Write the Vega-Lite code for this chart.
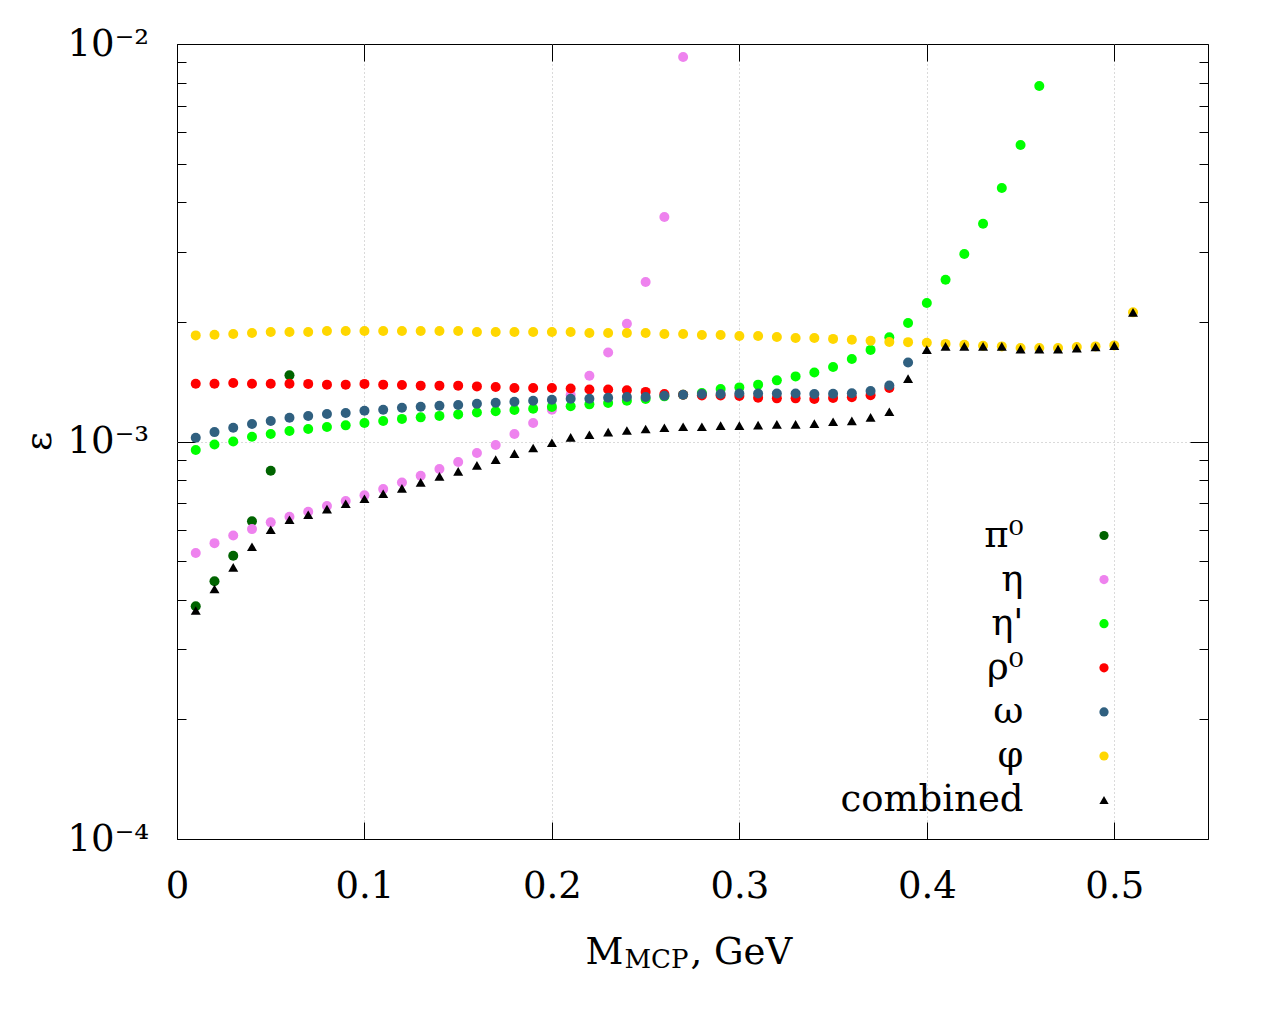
{
  "$schema": "https://vega.github.io/schema/vega-lite/v6.json",
  "width": 1031,
  "height": 795,
  "autosize": {"type": "none"},
  "padding": {"left": 177, "top": 44, "right": 72, "bottom": 185},
  "background": "white",
  "config": {"view": {"stroke": "black", "strokeWidth": 1}, "font": "DejaVu Serif"},
  "resolve": {"axis": {"x": "independent", "y": "independent"}},
  "layer": [
    {
      "data": {"values": [
        {"s":"π⁰","m":0.01,"e":3.85e-4},{"s":"π⁰","m":0.02,"e":4.45e-4},{"s":"π⁰","m":0.03,"e":5.16e-4},{"s":"π⁰","m":0.04,"e":6.30e-4},{"s":"π⁰","m":0.05,"e":8.44e-4},{"s":"π⁰","m":0.06,"e":1.467e-3},
        {"s":"η","m":0.01,"e":5.24e-4},{"s":"η","m":0.02,"e":5.55e-4},{"s":"η","m":0.03,"e":5.80e-4},{"s":"η","m":0.04,"e":6.02e-4},{"s":"η","m":0.05,"e":6.26e-4},{"s":"η","m":0.06,"e":6.47e-4},{"s":"η","m":0.07,"e":6.66e-4},{"s":"η","m":0.08,"e":6.88e-4},{"s":"η","m":0.09,"e":7.08e-4},{"s":"η","m":0.10,"e":7.32e-4},{"s":"η","m":0.11,"e":7.59e-4},{"s":"η","m":0.12,"e":7.89e-4},{"s":"η","m":0.13,"e":8.20e-4},{"s":"η","m":0.14,"e":8.53e-4},{"s":"η","m":0.15,"e":8.88e-4},{"s":"η","m":0.16,"e":9.36e-4},{"s":"η","m":0.17,"e":9.80e-4},{"s":"η","m":0.18,"e":1.044e-3},{"s":"η","m":0.19,"e":1.113e-3},{"s":"η","m":0.20,"e":1.202e-3},{"s":"η","m":0.21,"e":1.31e-3},{"s":"η","m":0.22,"e":1.464e-3},{"s":"η","m":0.23,"e":1.675e-3},{"s":"η","m":0.24,"e":1.979e-3},{"s":"η","m":0.25,"e":2.519e-3},{"s":"η","m":0.26,"e":3.671e-3},{"s":"η","m":0.27,"e":9.276e-3},
        {"s":"η'","m":0.01,"e":9.52e-4},{"s":"η'","m":0.02,"e":9.83e-4},{"s":"η'","m":0.03,"e":1.000e-3},{"s":"η'","m":0.04,"e":1.028e-3},{"s":"η'","m":0.05,"e":1.044e-3},{"s":"η'","m":0.06,"e":1.063e-3},{"s":"η'","m":0.07,"e":1.075e-3},{"s":"η'","m":0.08,"e":1.088e-3},{"s":"η'","m":0.09,"e":1.098e-3},{"s":"η'","m":0.10,"e":1.113e-3},{"s":"η'","m":0.11,"e":1.126e-3},{"s":"η'","m":0.12,"e":1.140e-3},{"s":"η'","m":0.13,"e":1.150e-3},{"s":"η'","m":0.14,"e":1.160e-3},{"s":"η'","m":0.15,"e":1.170e-3},{"s":"η'","m":0.16,"e":1.183e-3},{"s":"η'","m":0.17,"e":1.192e-3},{"s":"η'","m":0.18,"e":1.200e-3},{"s":"η'","m":0.19,"e":1.209e-3},{"s":"η'","m":0.20,"e":1.222e-3},{"s":"η'","m":0.21,"e":1.226e-3},{"s":"η'","m":0.22,"e":1.240e-3},{"s":"η'","m":0.23,"e":1.250e-3},{"s":"η'","m":0.24,"e":1.266e-3},{"s":"η'","m":0.25,"e":1.279e-3},{"s":"η'","m":0.26,"e":1.299e-3},{"s":"η'","m":0.27,"e":1.311e-3},{"s":"η'","m":0.28,"e":1.324e-3},{"s":"η'","m":0.29,"e":1.356e-3},{"s":"η'","m":0.30,"e":1.368e-3},{"s":"η'","m":0.31,"e":1.390e-3},{"s":"η'","m":0.32,"e":1.425e-3},{"s":"η'","m":0.33,"e":1.458e-3},{"s":"η'","m":0.34,"e":1.492e-3},{"s":"η'","m":0.35,"e":1.540e-3},{"s":"η'","m":0.36,"e":1.613e-3},{"s":"η'","m":0.37,"e":1.700e-3},{"s":"η'","m":0.38,"e":1.830e-3},{"s":"η'","m":0.39,"e":1.987e-3},{"s":"η'","m":0.40,"e":2.231e-3},{"s":"η'","m":0.41,"e":2.553e-3},{"s":"η'","m":0.42,"e":2.963e-3},{"s":"η'","m":0.43,"e":3.531e-3},{"s":"η'","m":0.44,"e":4.342e-3},{"s":"η'","m":0.45,"e":5.571e-3},{"s":"η'","m":0.46,"e":7.843e-3},
        {"s":"ρ⁰","m":0.01,"e":1.398e-3},{"s":"ρ⁰","m":0.02,"e":1.398e-3},{"s":"ρ⁰","m":0.03,"e":1.404e-3},{"s":"ρ⁰","m":0.04,"e":1.398e-3},{"s":"ρ⁰","m":0.05,"e":1.398e-3},{"s":"ρ⁰","m":0.06,"e":1.398e-3},{"s":"ρ⁰","m":0.07,"e":1.396e-3},{"s":"ρ⁰","m":0.08,"e":1.390e-3},{"s":"ρ⁰","m":0.09,"e":1.390e-3},{"s":"ρ⁰","m":0.10,"e":1.396e-3},{"s":"ρ⁰","m":0.11,"e":1.390e-3},{"s":"ρ⁰","m":0.12,"e":1.387e-3},{"s":"ρ⁰","m":0.13,"e":1.382e-3},{"s":"ρ⁰","m":0.14,"e":1.382e-3},{"s":"ρ⁰","m":0.15,"e":1.382e-3},{"s":"ρ⁰","m":0.16,"e":1.376e-3},{"s":"ρ⁰","m":0.17,"e":1.371e-3},{"s":"ρ⁰","m":0.18,"e":1.364e-3},{"s":"ρ⁰","m":0.19,"e":1.364e-3},{"s":"ρ⁰","m":0.20,"e":1.364e-3},{"s":"ρ⁰","m":0.21,"e":1.360e-3},{"s":"ρ⁰","m":0.22,"e":1.352e-3},{"s":"ρ⁰","m":0.23,"e":1.352e-3},{"s":"ρ⁰","m":0.24,"e":1.345e-3},{"s":"ρ⁰","m":0.25,"e":1.333e-3},{"s":"ρ⁰","m":0.26,"e":1.317e-3},{"s":"ρ⁰","m":0.27,"e":1.311e-3},{"s":"ρ⁰","m":0.28,"e":1.306e-3},{"s":"ρ⁰","m":0.29,"e":1.306e-3},{"s":"ρ⁰","m":0.30,"e":1.302e-3},{"s":"ρ⁰","m":0.31,"e":1.289e-3},{"s":"ρ⁰","m":0.32,"e":1.284e-3},{"s":"ρ⁰","m":0.33,"e":1.284e-3},{"s":"ρ⁰","m":0.34,"e":1.279e-3},{"s":"ρ⁰","m":0.35,"e":1.287e-3},{"s":"ρ⁰","m":0.36,"e":1.292e-3},{"s":"ρ⁰","m":0.37,"e":1.308e-3},{"s":"ρ⁰","m":0.38,"e":1.364e-3},
        {"s":"ω","m":0.01,"e":1.022e-3},{"s":"ω","m":0.02,"e":1.056e-3},{"s":"ω","m":0.03,"e":1.083e-3},{"s":"ω","m":0.04,"e":1.107e-3},{"s":"ω","m":0.05,"e":1.126e-3},{"s":"ω","m":0.06,"e":1.148e-3},{"s":"ω","m":0.07,"e":1.159e-3},{"s":"ω","m":0.08,"e":1.173e-3},{"s":"ω","m":0.09,"e":1.180e-3},{"s":"ω","m":0.10,"e":1.195e-3},{"s":"ω","m":0.11,"e":1.202e-3},{"s":"ω","m":0.12,"e":1.216e-3},{"s":"ω","m":0.13,"e":1.223e-3},{"s":"ω","m":0.14,"e":1.230e-3},{"s":"ω","m":0.15,"e":1.235e-3},{"s":"ω","m":0.16,"e":1.245e-3},{"s":"ω","m":0.17,"e":1.252e-3},{"s":"ω","m":0.18,"e":1.259e-3},{"s":"ω","m":0.19,"e":1.266e-3},{"s":"ω","m":0.20,"e":1.274e-3},{"s":"ω","m":0.21,"e":1.281e-3},{"s":"ω","m":0.22,"e":1.281e-3},{"s":"ω","m":0.23,"e":1.289e-3},{"s":"ω","m":0.24,"e":1.294e-3},{"s":"ω","m":0.25,"e":1.294e-3},{"s":"ω","m":0.26,"e":1.304e-3},{"s":"ω","m":0.27,"e":1.311e-3},{"s":"ω","m":0.28,"e":1.317e-3},{"s":"ω","m":0.29,"e":1.317e-3},{"s":"ω","m":0.30,"e":1.321e-3},{"s":"ω","m":0.31,"e":1.321e-3},{"s":"ω","m":0.32,"e":1.321e-3},{"s":"ω","m":0.33,"e":1.321e-3},{"s":"ω","m":0.34,"e":1.317e-3},{"s":"ω","m":0.35,"e":1.318e-3},{"s":"ω","m":0.36,"e":1.322e-3},{"s":"ω","m":0.37,"e":1.340e-3},{"s":"ω","m":0.38,"e":1.383e-3},{"s":"ω","m":0.39,"e":1.580e-3},
        {"s":"φ","m":0.01,"e":1.849e-3},{"s":"φ","m":0.02,"e":1.856e-3},{"s":"φ","m":0.03,"e":1.864e-3},{"s":"φ","m":0.04,"e":1.875e-3},{"s":"φ","m":0.05,"e":1.886e-3},{"s":"φ","m":0.06,"e":1.886e-3},{"s":"φ","m":0.07,"e":1.886e-3},{"s":"φ","m":0.08,"e":1.897e-3},{"s":"φ","m":0.09,"e":1.897e-3},{"s":"φ","m":0.10,"e":1.897e-3},{"s":"φ","m":0.11,"e":1.897e-3},{"s":"φ","m":0.12,"e":1.897e-3},{"s":"φ","m":0.13,"e":1.897e-3},{"s":"φ","m":0.14,"e":1.897e-3},{"s":"φ","m":0.15,"e":1.897e-3},{"s":"φ","m":0.16,"e":1.886e-3},{"s":"φ","m":0.17,"e":1.886e-3},{"s":"φ","m":0.18,"e":1.886e-3},{"s":"φ","m":0.19,"e":1.886e-3},{"s":"φ","m":0.20,"e":1.886e-3},{"s":"φ","m":0.21,"e":1.886e-3},{"s":"φ","m":0.22,"e":1.875e-3},{"s":"φ","m":0.23,"e":1.875e-3},{"s":"φ","m":0.24,"e":1.875e-3},{"s":"φ","m":0.25,"e":1.875e-3},{"s":"φ","m":0.26,"e":1.864e-3},{"s":"φ","m":0.27,"e":1.864e-3},{"s":"φ","m":0.28,"e":1.853e-3},{"s":"φ","m":0.29,"e":1.853e-3},{"s":"φ","m":0.30,"e":1.842e-3},{"s":"φ","m":0.31,"e":1.842e-3},{"s":"φ","m":0.32,"e":1.832e-3},{"s":"φ","m":0.33,"e":1.821e-3},{"s":"φ","m":0.34,"e":1.821e-3},{"s":"φ","m":0.35,"e":1.812e-3},{"s":"φ","m":0.36,"e":1.802e-3},{"s":"φ","m":0.37,"e":1.792e-3},{"s":"φ","m":0.38,"e":1.780e-3},{"s":"φ","m":0.39,"e":1.778e-3},{"s":"φ","m":0.40,"e":1.771e-3},{"s":"φ","m":0.41,"e":1.760e-3},{"s":"φ","m":0.42,"e":1.752e-3},{"s":"φ","m":0.43,"e":1.742e-3},{"s":"φ","m":0.44,"e":1.735e-3},{"s":"φ","m":0.45,"e":1.719e-3},{"s":"φ","m":0.46,"e":1.719e-3},{"s":"φ","m":0.47,"e":1.719e-3},{"s":"φ","m":0.48,"e":1.729e-3},{"s":"φ","m":0.49,"e":1.735e-3},{"s":"φ","m":0.50,"e":1.745e-3},{"s":"φ","m":0.51,"e":2.113e-3},
        {"s":"combined","m":0.01,"e":3.757e-4},{"s":"combined","m":0.02,"e":4.255e-4},{"s":"combined","m":0.03,"e":4.824e-4},{"s":"combined","m":0.04,"e":5.436e-4},{"s":"combined","m":0.05,"e":5.999e-4},{"s":"combined","m":0.06,"e":6.357e-4},{"s":"combined","m":0.07,"e":6.543e-4},{"s":"combined","m":0.08,"e":6.762e-4},{"s":"combined","m":0.09,"e":6.974e-4},{"s":"combined","m":0.10,"e":7.179e-4},{"s":"combined","m":0.11,"e":7.390e-4},{"s":"combined","m":0.12,"e":7.621e-4},{"s":"combined","m":0.13,"e":7.890e-4},{"s":"combined","m":0.14,"e":8.170e-4},{"s":"combined","m":0.15,"e":8.411e-4},{"s":"combined","m":0.16,"e":8.706e-4},{"s":"combined","m":0.17,"e":9.000e-4},{"s":"combined","m":0.18,"e":9.318e-4},{"s":"combined","m":0.19,"e":9.630e-4},{"s":"combined","m":0.20,"e":9.930e-4},{"s":"combined","m":0.21,"e":1.024e-3},{"s":"combined","m":0.22,"e":1.040e-3},{"s":"combined","m":0.23,"e":1.056e-3},{"s":"combined","m":0.24,"e":1.066e-3},{"s":"combined","m":0.25,"e":1.075e-3},{"s":"combined","m":0.26,"e":1.083e-3},{"s":"combined","m":0.27,"e":1.089e-3},{"s":"combined","m":0.28,"e":1.089e-3},{"s":"combined","m":0.29,"e":1.096e-3},{"s":"combined","m":0.30,"e":1.096e-3},{"s":"combined","m":0.31,"e":1.100e-3},{"s":"combined","m":0.32,"e":1.104e-3},{"s":"combined","m":0.33,"e":1.104e-3},{"s":"combined","m":0.34,"e":1.109e-3},{"s":"combined","m":0.35,"e":1.121e-3},{"s":"combined","m":0.36,"e":1.127e-3},{"s":"combined","m":0.37,"e":1.150e-3},{"s":"combined","m":0.38,"e":1.188e-3},{"s":"combined","m":0.39,"e":1.439e-3},{"s":"combined","m":0.40,"e":1.702e-3},{"s":"combined","m":0.41,"e":1.735e-3},{"s":"combined","m":0.42,"e":1.735e-3},{"s":"combined","m":0.43,"e":1.735e-3},{"s":"combined","m":0.44,"e":1.735e-3},{"s":"combined","m":0.45,"e":1.708e-3},{"s":"combined","m":0.46,"e":1.708e-3},{"s":"combined","m":0.47,"e":1.708e-3},{"s":"combined","m":0.48,"e":1.718e-3},{"s":"combined","m":0.49,"e":1.729e-3},{"s":"combined","m":0.50,"e":1.742e-3},{"s":"combined","m":0.51,"e":2.113e-3}
      ]},
      "mark": {"type": "point", "filled": true, "size": 100, "opacity": 1, "strokeWidth": 0},
      "encoding": {
        "x": {"field": "m", "type": "quantitative",
          "scale": {"domain": [0, 0.55], "nice": false, "zero": false},
          "axis": {"orient": "bottom", "values": [0, 0.1, 0.2, 0.3, 0.4, 0.5], "format": ".1~f",
            "domain": false, "grid": true, "gridColor": "#b4b4b4", "gridDash": [1, 3], "gridWidth": 1,
            "gridOpacity": {"condition": {"test": "datum.value > 0.001", "value": 1}, "value": 0},
            "tickSize": -17, "tickColor": "black", "tickWidth": 1,
            "labelFont": "DejaVu Serif", "labelFontSize": 37, "labelColor": "black", "labelPadding": 46,
            "labelFlush": false, "labelOverlap": false, "labelBaseline": "top",
            "title": "M", "titleFont": "DejaVu Serif", "titleFontSize": 37, "titleFontWeight": "normal", "titleColor": "black",
            "titleX": 408, "titleY": 124, "titleAlign": "left", "titleBaseline": "alphabetic", "titleAngle": 0}},
        "y": {"field": "e", "type": "quantitative",
          "scale": {"type": "log", "domain": [0.0001, 0.01], "nice": false},
          "axis": {"orient": "left",
            "values": [0.0001, 0.0002, 0.0003, 0.0004, 0.0005, 0.0006, 0.0007, 0.0008, 0.0009, 0.001, 0.002, 0.003, 0.004, 0.005, 0.006, 0.007, 0.008, 0.009, 0.01],
            "domain": false, "grid": true, "gridColor": "#b4b4b4", "gridDash": [1, 3], "gridWidth": 1,
            "gridOpacity": {"condition": {"test": "abs(datum.value - 0.001) < 0.00001", "value": 1}, "value": 0},
            "tickSize": {"condition": {"test": "abs(log(datum.value)/LN10 - round(log(datum.value)/LN10)) < 0.001", "value": -18}, "value": -9},
            "tickColor": "black", "tickWidth": 1,
            "labelExpr": "abs(log(datum.value)/LN10 + 2) < 0.001 ? '10⁻²' : abs(log(datum.value)/LN10 + 3) < 0.001 ? '10⁻³' : abs(log(datum.value)/LN10 + 4) < 0.001 ? '10⁻⁴' : ''",
            "labelFont": "DejaVu Serif", "labelFontSize": 37, "labelColor": "black", "labelPadding": 46.5,
            "labelFlush": false, "labelOverlap": false, "labelAlign": "right", "labelBaseline": "middle",
            "title": "ε", "titleFont": "DejaVu Serif", "titleFontSize": 37, "titleFontWeight": "normal", "titleColor": "black",
            "titleX": -138, "titleY": 397, "titleAngle": 270, "titleAlign": "center", "titleBaseline": "middle"}},
        "color": {"field": "s", "type": "nominal",
          "scale": {"domain": ["π⁰", "η", "η'", "ρ⁰", "ω", "φ", "combined"],
                    "range": ["#006400", "#ee82ee", "#00ff00", "#ff0000", "#306080", "#ffd700", "#000000"]},
          "legend": {"orient": "none", "legendX": 908.5, "legendY": 473, "direction": "vertical", "title": null,
            "labelFont": "DejaVu Serif", "labelFontSize": 37, "labelColor": "black", "labelAlign": "right",
            "labelOffset": -99, "labelLimit": 0, "symbolSize": 85, "rowPadding": 6.1, "padding": 0, "symbolStrokeWidth": 0}},
        "shape": {"field": "s", "type": "nominal",
          "scale": {"domain": ["π⁰", "η", "η'", "ρ⁰", "ω", "φ", "combined"],
                    "range": ["circle", "circle", "circle", "circle", "circle", "circle", "triangle-up"]},
          "legend": {"orient": "none", "legendX": 908.5, "legendY": 473, "direction": "vertical", "title": null,
            "labelFont": "DejaVu Serif", "labelFontSize": 37, "labelColor": "black", "labelAlign": "right",
            "labelOffset": -99, "labelLimit": 0, "symbolSize": 85, "rowPadding": 6.1, "padding": 0, "symbolStrokeWidth": 0}}
      }
    },
    {
      "data": {"values": []},
      "mark": {"type": "point"},
      "encoding": {
        "x": {"field": "m", "type": "quantitative",
          "axis": {"orient": "top", "values": [0, 0.1, 0.2, 0.3, 0.4, 0.5], "domain": false, "grid": false, "labels": false,
            "tickSize": -17, "tickColor": "black", "tickWidth": 1,
            "title": "MCP", "titleFont": "DejaVu Serif", "titleFontSize": 26, "titleFontWeight": "normal", "titleColor": "black",
            "titleX": 447, "titleY": 923, "titleAlign": "left", "titleBaseline": "alphabetic", "titleAngle": 0}},
        "y": {"field": "e", "type": "quantitative",
          "axis": {"orient": "right",
            "values": [0.0001, 0.0002, 0.0003, 0.0004, 0.0005, 0.0006, 0.0007, 0.0008, 0.0009, 0.001, 0.002, 0.003, 0.004, 0.005, 0.006, 0.007, 0.008, 0.009, 0.01],
            "domain": false, "grid": false, "labels": false,
            "tickSize": {"condition": {"test": "abs(log(datum.value)/LN10 - round(log(datum.value)/LN10)) < 0.001", "value": -18}, "value": -9},
            "tickColor": "black", "tickWidth": 1,
            "title": ", GeV", "titleFont": "DejaVu Serif", "titleFontSize": 37, "titleFontWeight": "normal", "titleColor": "black",
            "titleX": -518, "titleY": 919, "titleAlign": "left", "titleBaseline": "alphabetic", "titleAngle": 0}}
      }
    }
  ]
}
